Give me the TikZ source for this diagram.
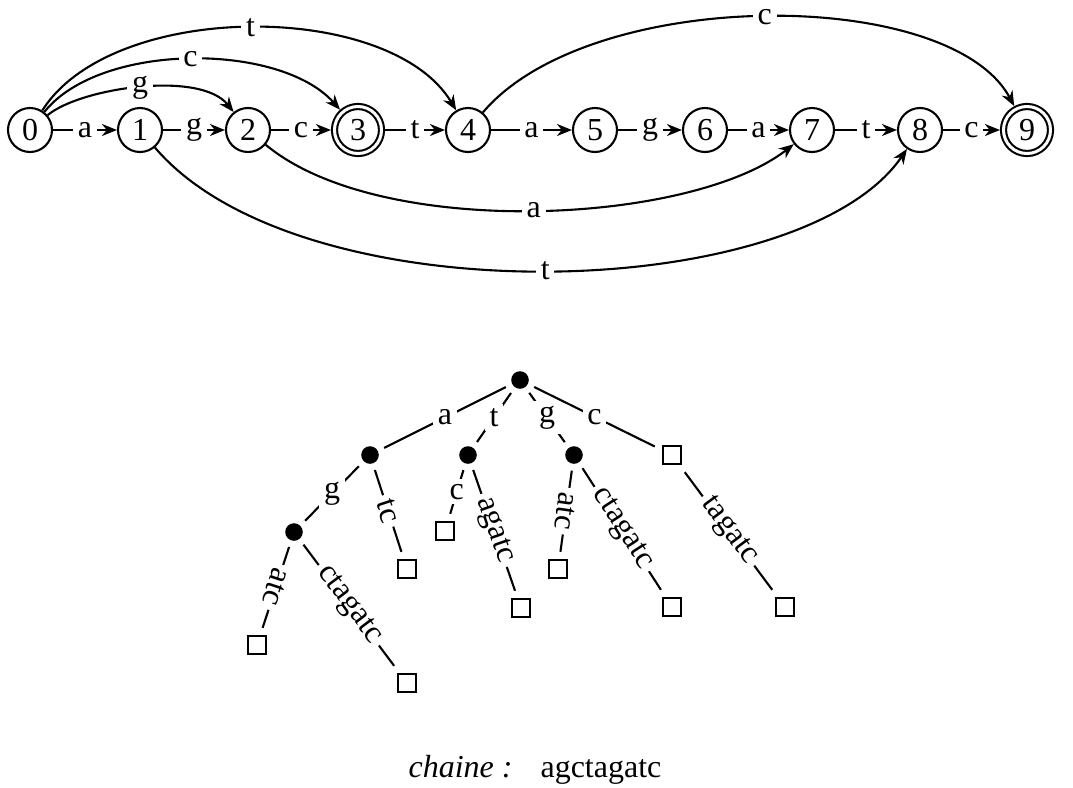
\documentclass[tikz,border=0pt]{standalone}
\usepackage{fontspec}
\setmainfont{Liberation Serif}
\usetikzlibrary{arrows.meta}
\begin{document}
\begin{tikzpicture}[x=0.5pt,y=-0.5pt, font=\fontsize{16}{19}\selectfont, line width=1.05pt,
  st/.style={circle,draw,minimum size=22pt,inner sep=0pt},
  acc/.style={circle,draw,double,double distance=1.5pt,minimum size=23.5pt,inner sep=0pt,outer sep=1.8pt},
  lb/.style={fill=white,inner sep=2.4pt},
  arr/.style={-{Stealth[length=7.5pt,width=6pt,inset=2.4pt]}},
  dot/.style={circle,fill,minimum size=8.8pt,inner sep=0pt,outer sep=3.5pt},
  leaf/.style={draw,minimum size=9.2pt,inner sep=0pt,outer sep=4pt},
]
\useasboundingbox (0,0) rectangle (1073,788);
% automaton states
\node[st]  (n0) at (30,130)  {0};
\node[st]  (n1) at (140,130) {1};
\node[st]  (n2) at (248,130) {2};
\node[acc] (n3) at (358,130) {3};
\node[st]  (n4) at (468,130) {4};
\node[st]  (n5) at (595,130) {5};
\node[st]  (n6) at (705,130) {6};
\node[st]  (n7) at (812,130) {7};
\node[st]  (n8) at (920,130) {8};
\node[acc] (n9) at (1027,130) {9};
% straight transitions
\draw[arr] (n0) -- node[lb]{a} (n1);
\draw[arr] (n1) -- node[lb]{g} (n2);
\draw[arr] (n2) -- node[lb]{c} (n3);
\draw[arr] (n3) -- node[lb]{t} (n4);
\draw[arr] (n4) -- node[lb]{a} (n5);
\draw[arr] (n5) -- node[lb]{g} (n6);
\draw[arr] (n6) -- node[lb]{a} (n7);
\draw[arr] (n7) -- node[lb]{t} (n8);
\draw[arr] (n8) -- node[lb]{c} (n9);
% curved transitions
\draw[arr] (n0) .. controls (112,0) and (390,0) .. node[lb]{t} (n4);
\draw[arr] (n0) .. controls (100,42) and (280,42) .. node[lb]{c} (n3);
\draw[arr] (n0) .. controls (80,88) and (200,70) .. node[lb]{g} (n2);
\draw[arr] (n4) .. controls (590,-14) and (950,-14) .. node[lb]{c} (n9);
\draw[arr] (n2) .. controls (380,240) and (690,225) .. node[lb]{a} (n7);
\draw[arr] (n1) .. controls (300,318) and (800,305) .. node[lb]{t} (n8);
% suffix tree
\node[dot]  (r)   at (520,380) {};
\node[dot]  (A)   at (370,455) {};
\node[dot]  (T)   at (468,455) {};
\node[dot]  (G)   at (574,455) {};
\node[leaf] (C)   at (672,455) {};
\node[dot]  (AG)  at (294,532) {};
\node[leaf] (ATC) at (407,569) {};
\node[leaf] (TC)  at (445,531) {};
\node[leaf] (TAG) at (521,608) {};
\node[leaf] (GAT) at (558,569) {};
\node[leaf] (GCT) at (672,607) {};
\node[leaf] (CTA) at (785,607) {};
\node[leaf] (AGA) at (257,645) {};
\node[leaf] (AGC) at (407,683) {};
\draw (r) -- node[lb]{a} (A);
\draw (r) -- node[lb]{t} (T);
\draw (r) -- node[lb]{g} (G);
\draw (r) -- node[lb]{c} (C);
\draw (A) -- node[lb]{g} (AG);
\draw (A) -- node[lb,sloped]{tc} (ATC);
\draw (T) -- node[lb]{c} (TC);
\draw (T) -- node[lb,sloped]{agatc} (TAG);
\draw (G) -- node[lb,sloped,allow upside down]{atc} (GAT);
\draw (G) -- node[lb,sloped]{ctagatc} (GCT);
\draw (C) -- node[lb,sloped]{tagatc} (CTA);
\draw (AG) -- node[lb,sloped,allow upside down]{atc} (AGA);
\draw (AG) -- node[lb,sloped]{ctagatc} (AGC);
% caption
\node (cap) at (535,770) {\textit{chaine :}\hspace{14pt}agctagatc};
\end{tikzpicture}
\end{document}
